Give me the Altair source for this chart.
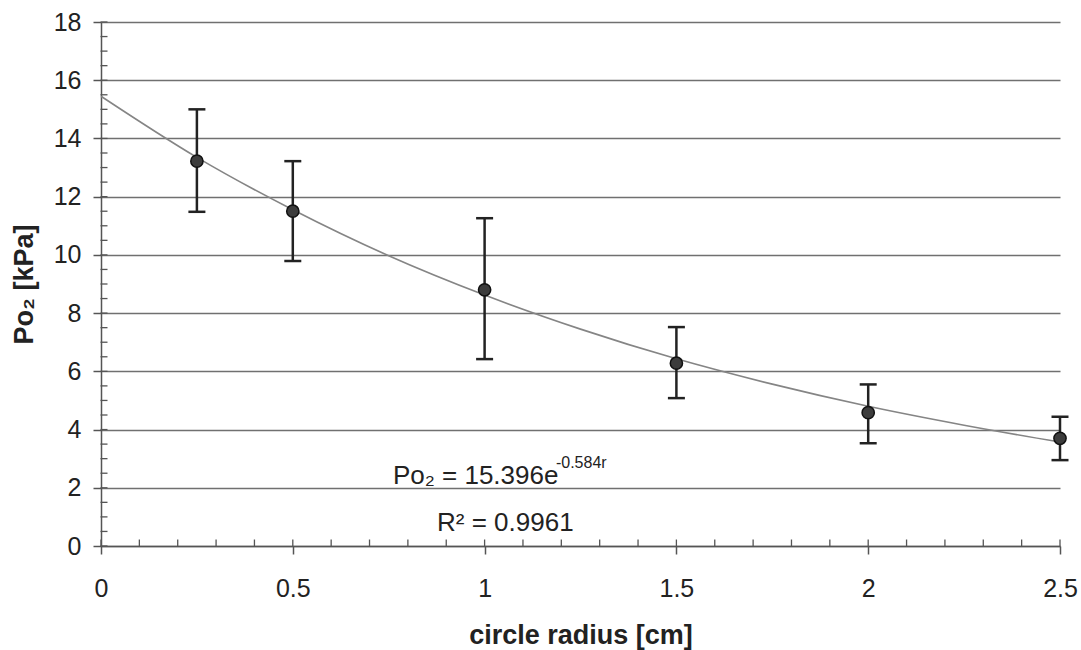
import altair as alt
import pandas as pd

radius = [0.25, 0.5, 1.0, 1.5, 2.0, 2.5]
po2_mean = [13.22, 11.5, 8.8, 6.28, 4.58, 3.7]
po2_high = [15.0, 13.22, 11.26, 7.52, 5.55, 4.44]
po2_low = [11.48, 9.79, 6.42, 5.08, 3.53, 2.95]

# exponential trend line
fit_r = [0, 0.25, 0.5, 0.75, 1.0, 1.25, 1.5, 1.75, 2.0, 2.25, 2.5]
fit_p = [15.45, 13.35, 11.55, 9.97, 8.62, 7.45, 6.43, 5.56, 4.8, 4.15, 3.57]

x_ticks = [0, 0.5, 1, 1.5, 2, 2.5]
y_ticks = [0, 2, 4, 6, 8, 10, 12, 14, 16, 18]
x_minor = [i / 10 for i in range(0, 26)]
y_minor = [i / 2 for i in range(0, 37)]

eq_text = ["Po₂ = 15.396e"]
eq_sup = ["-0.584r"]
r2_text = ["R² = 0.9961"]
eq_pos = [0.761, 2.12]
r2_pos = [0.876, 0.5]

W, H = 959, 524
FONT = "Liberation Sans"

pts = pd.DataFrame({"r": radius, "p": po2_mean, "hi": po2_high, "lo": po2_low})
fit = pd.DataFrame({"r": fit_r, "p": fit_p})
xm = pd.DataFrame({"r": x_minor})
ym = pd.DataFrame({"p": y_minor})

xs = alt.Scale(domain=[0, 2.5], nice=False, zero=False)
ys = alt.Scale(domain=[0, 18], nice=False)

xaxis = alt.Axis(values=x_ticks, format="~g", grid=False, tickSize=8,
                 labelPadding=22, titlePadding=21, labelFlush=False)
yaxis = alt.Axis(values=y_ticks, grid=True, tickSize=8, labelPadding=12,
                 titlePadding=15)

X = lambda f: alt.X(f, type="quantitative", scale=xs, axis=xaxis, title="circle radius [cm]")
Y = lambda f: alt.Y(f, type="quantitative", scale=ys, axis=yaxis, title="Po₂ [kPa]")

curve = alt.Chart(fit).mark_line(color="#858585", strokeWidth=1.6,
                                 interpolate="monotone").encode(x=X("r"), y=Y("p"))

err = alt.Chart(pts).mark_rule(color="#222222", strokeWidth=2.5).encode(
    x=X("r"), y=Y("lo"), y2="hi:Q")
cap_hi = alt.Chart(pts).mark_tick(orient="horizontal", size=17, thickness=2.5,
                                  color="#222222", opacity=1).encode(x=X("r"), y=Y("hi"))
cap_lo = alt.Chart(pts).mark_tick(orient="horizontal", size=17, thickness=2.5,
                                  color="#222222", opacity=1).encode(x=X("r"), y=Y("lo"))
dots = alt.Chart(pts).mark_point(filled=True, size=150, fill="#3c3c3c", stroke="#111111",
                                 strokeWidth=1.5, opacity=1).encode(x=X("r"), y=Y("p"))

xminor = alt.Chart(xm).mark_tick(orient="vertical", size=7, thickness=1.3,
                                 color="#555555", opacity=1).encode(
    x=X("r"), y=alt.value(H - 3))
yminor = alt.Chart(ym).mark_tick(orient="horizontal", size=7, thickness=1.3,
                                 color="#555555", opacity=1).encode(
    y=Y("p"), x=alt.value(3))

ann1 = alt.Chart(pd.DataFrame({"r": [eq_pos[0]], "p": [eq_pos[1]], "t": eq_text})).mark_text(
    align="left", baseline="alphabetic", font=FONT, fontSize=26, color="#222222").encode(
    x=X("r"), y=Y("p"), text="t:N")
ann_sup = alt.Chart(pd.DataFrame({"r": [eq_pos[0]], "p": [eq_pos[1]], "t": eq_sup})).mark_text(
    align="left", baseline="alphabetic", font=FONT, fontSize=16, color="#222222",
    dx=163, dy=-16).encode(x=X("r"), y=Y("p"), text="t:N")
ann2 = alt.Chart(pd.DataFrame({"r": [r2_pos[0]], "p": [r2_pos[1]], "t": r2_text})).mark_text(
    align="left", baseline="alphabetic", font=FONT, fontSize=26, color="#222222").encode(
    x=X("r"), y=Y("p"), text="t:N")

chart = alt.layer(curve, xminor, yminor, err, cap_hi, cap_lo, dots, ann1, ann_sup, ann2).properties(
    width=W, height=H,
    autosize=alt.AutoSizeParams(type="none"),
    padding={"left": 101, "top": 22, "right": 21, "bottom": 104},
    background="white",
).configure_view(stroke=None).configure_axis(
    labelFont=FONT, labelFontSize=25, labelColor="#222222",
    titleFont=FONT, titleFontSize=27, titleFontWeight="bold", titleColor="#222222",
    domainColor="#555555", domainWidth=1.5, tickColor="#555555", tickWidth=1.5,
    gridColor="#707070", gridWidth=1.4, gridOpacity=1,
)

chart.save("out.html", embed_options={"renderer": "svg", "actions": False})
